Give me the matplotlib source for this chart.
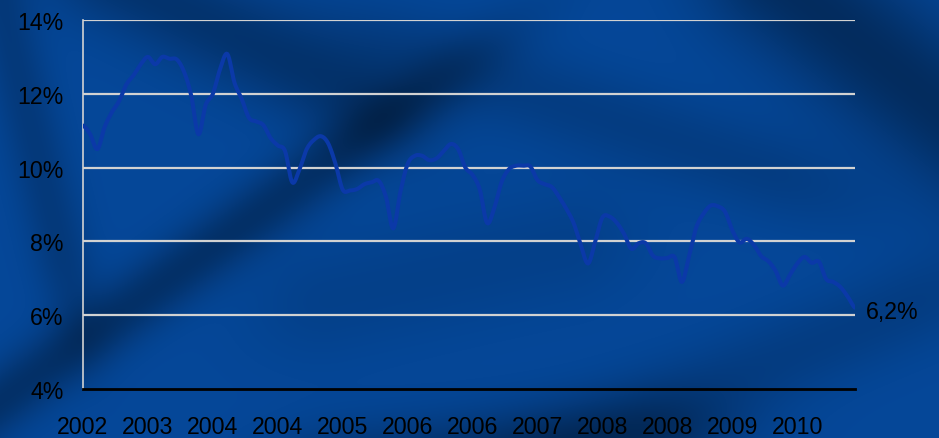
import numpy as np
import matplotlib
matplotlib.use("Agg")
import matplotlib.pyplot as plt

plt.rcParams['font.family'] = ['Liberation Sans', 'DejaVu Sans']

# ---- data (monthly rate, %) ----
values = [
    11.14, 10.9, 10.5, 11.1, 11.5, 11.8, 12.25, 12.5, 12.8, 13.0,
    12.8, 13.0, 12.95, 12.93, 12.6, 11.95, 10.9, 11.7, 12.0, 12.67,
    13.08, 12.3, 11.86, 11.35, 11.25, 11.15, 10.8, 10.6, 10.45, 9.6,
    9.95, 10.5, 10.75, 10.85, 10.65, 10.1, 9.4, 9.38, 9.42, 9.55,
    9.6, 9.64, 9.2, 8.35, 9.35, 10.1, 10.32, 10.32, 10.2, 10.25,
    10.45, 10.64, 10.5, 10.0, 9.8, 9.4, 8.5, 8.9, 9.6, 9.95,
    10.05, 10.05, 10.03, 9.66, 9.55, 9.47, 9.2, 8.88, 8.5, 7.9,
    7.4, 8.0, 8.65, 8.67, 8.5, 8.2, 7.8, 7.95, 7.95, 7.61,
    7.54, 7.55, 7.57, 6.9, 7.6, 8.38, 8.75, 8.97, 8.95, 8.8,
    8.3, 7.97, 8.07, 7.9, 7.6, 7.46, 7.2, 6.8, 7.1, 7.4,
    7.58, 7.42, 7.45, 6.98, 6.9, 6.76, 6.5, 6.2,
]
tick_labels = ['2002', '2003', '2004', '2004', '2005', '2006',
               '2006', '2007', '2008', '2008', '2009', '2010']
tick_step = 9
y_ticks = [4, 6, 8, 10, 12, 14]
end_label = '6,2%'

W, H = 939, 439
fig = plt.figure(figsize=(W / 100, H / 100), dpi=100)

# ---- background: blue fabric-like texture ----
yy, xx = np.mgrid[0:H, 0:W].astype(float)

def streak(x0, y0, x1, y1, w, a):
    dx, dy = x1 - x0, y1 - y0
    L = np.hypot(dx, dy)
    nx, ny = -dy / L, dx / L
    d = (xx - x0) * nx + (yy - y0) * ny
    t = ((xx - x0) * dx + (yy - y0) * dy) / L ** 2
    fall = np.exp(-np.clip(np.maximum(-t, t - 1), 0, None) ** 2 * 8)
    return a * np.exp(-(d / w) ** 2) * fall

dark = np.zeros((H, W))
dark += streak(-40, 430, 360, 140, 32, 0.32)
dark += streak(120, -20, 340, 90, 50, 0.28)
dark += streak(780, -20, 980, 140, 70, 0.38)
dark += streak(360, 470, 640, 440, 45, 0.3)
dark += streak(430, 60, 760, 170, 45, 0.15)
dark += streak(0, 0, 60, 250, 30, 0.2)
dark += streak(560, 450, 900, 310, 45, 0.15)
dark += streak(330, 300, 560, 250, 60, 0.1)
dark = np.clip(dark, 0, 0.6)
base = np.array([0.02, 0.28, 0.6])
img = base[None, None, :] * (1 - dark[..., None])
img = np.clip(img, 0, 1)
bg = fig.add_axes([0, 0, 1, 1], zorder=0)
bg.imshow(img, aspect='auto', extent=[0, 1, 0, 1], origin='upper')
bg.axis('off')

# ---- main axes ----
left, right = 83 / W, 855 / W
bottom, top = (H - 390) / H, (H - 21) / H
ax = fig.add_axes([left, bottom, right - left, top - bottom], zorder=1)
ax.patch.set_alpha(0)

# smoothed rendering of the series (Catmull-Rom, like a smoothed line chart)
x = np.arange(len(values))
v = np.asarray(values, dtype=float)
p = np.concatenate([[v[0]], v, [v[-1]]])
t = np.linspace(0, 1, 8, endpoint=False)
xs, ys = [], []
for i in range(len(v) - 1):
    p0, p1, p2, p3 = p[i], p[i + 1], p[i + 2], p[i + 3]
    seg = 0.5 * ((2 * p1) + (-p0 + p2) * t + (2 * p0 - 5 * p1 + 4 * p2 - p3) * t ** 2
                 + (-p0 + 3 * p1 - 3 * p2 + p3) * t ** 3)
    xs.extend(i + t)
    ys.extend(seg)
xs.append(x[-1])
ys.append(v[-1])
ax.plot(xs, ys, color='#0b39a8', lw=2.9, solid_joinstyle='round',
        solid_capstyle='round', zorder=3)

ax.set_xlim(0, len(values) - 1)
ax.set_ylim(4, 14)
ax.set_yticks(y_ticks)
ax.set_yticklabels([f'{v}%' for v in y_ticks])
ax.set_xticks(x[::tick_step][:len(tick_labels)])
ax.set_xticklabels(tick_labels)
for yv in y_ticks[1:]:
    ax.axhline(yv, color='#d2d2d2', lw=1.6, zorder=2)

for s in ['top', 'right']:
    ax.spines[s].set_visible(False)
ax.spines['left'].set_color('#d2d2d2')
ax.spines['left'].set_linewidth(1.2)
ax.spines['bottom'].set_color('black')
ax.spines['bottom'].set_linewidth(2.0)
ax.spines['bottom'].set_zorder(4)

fs = 16.7
ax.tick_params(axis='both', length=0, labelsize=fs, colors='black')
ax.tick_params(axis='x', pad=18.5)
ax.tick_params(axis='y', pad=14)

ax.annotate(end_label, xy=(x[-1], values[-1]), xytext=(8, -3),
            textcoords='offset points', va='center', ha='left',
            fontsize=fs, color='black', annotation_clip=False)

fig.savefig('out.png', dpi=100)
